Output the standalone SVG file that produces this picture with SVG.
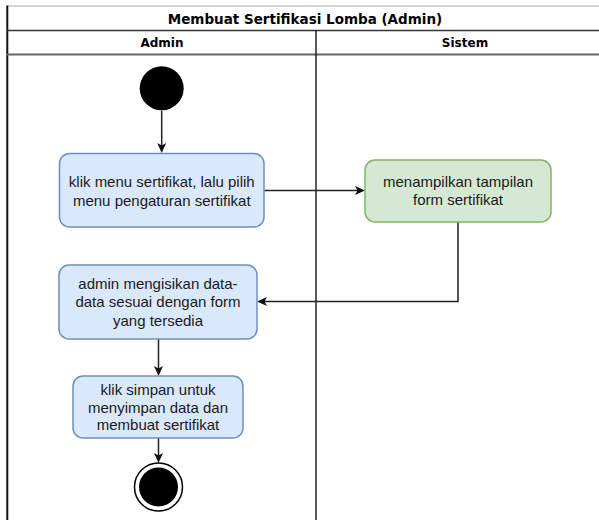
<svg xmlns="http://www.w3.org/2000/svg" width="599" height="520" viewBox="0 0 599 520">
  <style>
    .hdr { font-family: "DejaVu Sans", Verdana, sans-serif; font-weight: bold; font-size: 12px; fill: #000; text-anchor: middle; }
    .ttl { font-size: 13.5px; }
    .lbl { font-family: "Liberation Sans", Arial, sans-serif; font-size: 15px; fill: #1a1a1a; text-anchor: middle; }
    .blue { fill: #dae8fc; stroke: #6c8ebf; stroke-width: 1.5; }
    .green { fill: #d5e8d4; stroke: #82b366; stroke-width: 1.5; }
    .edge { fill: none; stroke: #222; stroke-width: 1.5; marker-end: url(#arr); }
  </style>
  <defs>
    <marker id="arr" markerUnits="userSpaceOnUse" viewBox="0 0 10 10" markerWidth="10" markerHeight="10" refX="7" refY="5" orient="auto">
      <path d="M0,0.5 L10,5 L0,9.5 L2.5,5 z" fill="#111"/>
    </marker>
  </defs>
  <rect width="599" height="520" fill="#ffffff"/>

  <g id="pool">
    <line x1="7" y1="6" x2="613" y2="6" stroke="#aaaaaa" stroke-width="1"/>
    <line x1="7.3" y1="5.5" x2="7.3" y2="530" stroke="#111" stroke-width="2"/>
    <line x1="7" y1="30.5" x2="613" y2="30.5" stroke="#333" stroke-width="1.5"/>
    <line x1="7" y1="54.5" x2="613" y2="54.5" stroke="#666" stroke-width="2"/>
    <line x1="316" y1="30.5" x2="316" y2="530" stroke="#222" stroke-width="1.5"/>
    <text class="hdr ttl" x="305" y="23.5">Membuat Sertifikasi Lomba (Admin)</text>
    <text class="hdr" x="162" y="47">Admin</text>
    <text class="hdr" x="465" y="47">Sistem</text>
  </g>

  <g id="edges">
    <path class="edge" d="M161.7,110.5 L161.7,150"/>
    <path class="edge" d="M264,190.5 L362,190.5"/>
    <path class="edge" d="M458,222 L458,301.5 L260,301.5"/>
    <path class="edge" d="M158.5,339 L158.5,373"/>
    <path class="edge" d="M158.5,438 L158.5,460"/>
  </g>

  <g id="start">
    <circle cx="161.7" cy="88.3" r="22" fill="#000"/>
  </g>

  <g id="node-klik-menu">
    <rect class="blue" x="59.5" y="153.5" width="204.5" height="73.5" rx="10"/>
    <text class="lbl" x="161.75" y="186.5">klik menu sertifikat, lalu pilih</text>
    <text class="lbl" x="161.75" y="205.5">menu pengaturan sertifikat</text>
  </g>

  <g id="node-tampilan">
    <rect class="green" x="365" y="160" width="186" height="62" rx="10"/>
    <text class="lbl" x="458" y="186.5">menampilkan tampilan</text>
    <text class="lbl" x="458" y="205">form sertifikat</text>
  </g>

  <g id="node-isi-data">
    <rect class="blue" x="59" y="265" width="198" height="74" rx="10"/>
    <text class="lbl" x="158" y="288.5">admin mengisikan data-</text>
    <text class="lbl" x="158" y="307">data sesuai dengan form</text>
    <text class="lbl" x="158" y="325.5">yang tersedia</text>
  </g>

  <g id="node-simpan">
    <rect class="blue" x="73" y="376" width="170" height="62" rx="10"/>
    <text class="lbl" x="158" y="395">klik simpan untuk</text>
    <text class="lbl" x="158" y="412.5">menyimpan data dan</text>
    <text class="lbl" x="158" y="430">membuat sertifikat</text>
  </g>

  <g id="end">
    <circle cx="158.5" cy="487" r="24" fill="#ffffff" stroke="#000" stroke-width="1.5"/>
    <circle cx="158.5" cy="487" r="19.5" fill="#000"/>
  </g>
</svg>
